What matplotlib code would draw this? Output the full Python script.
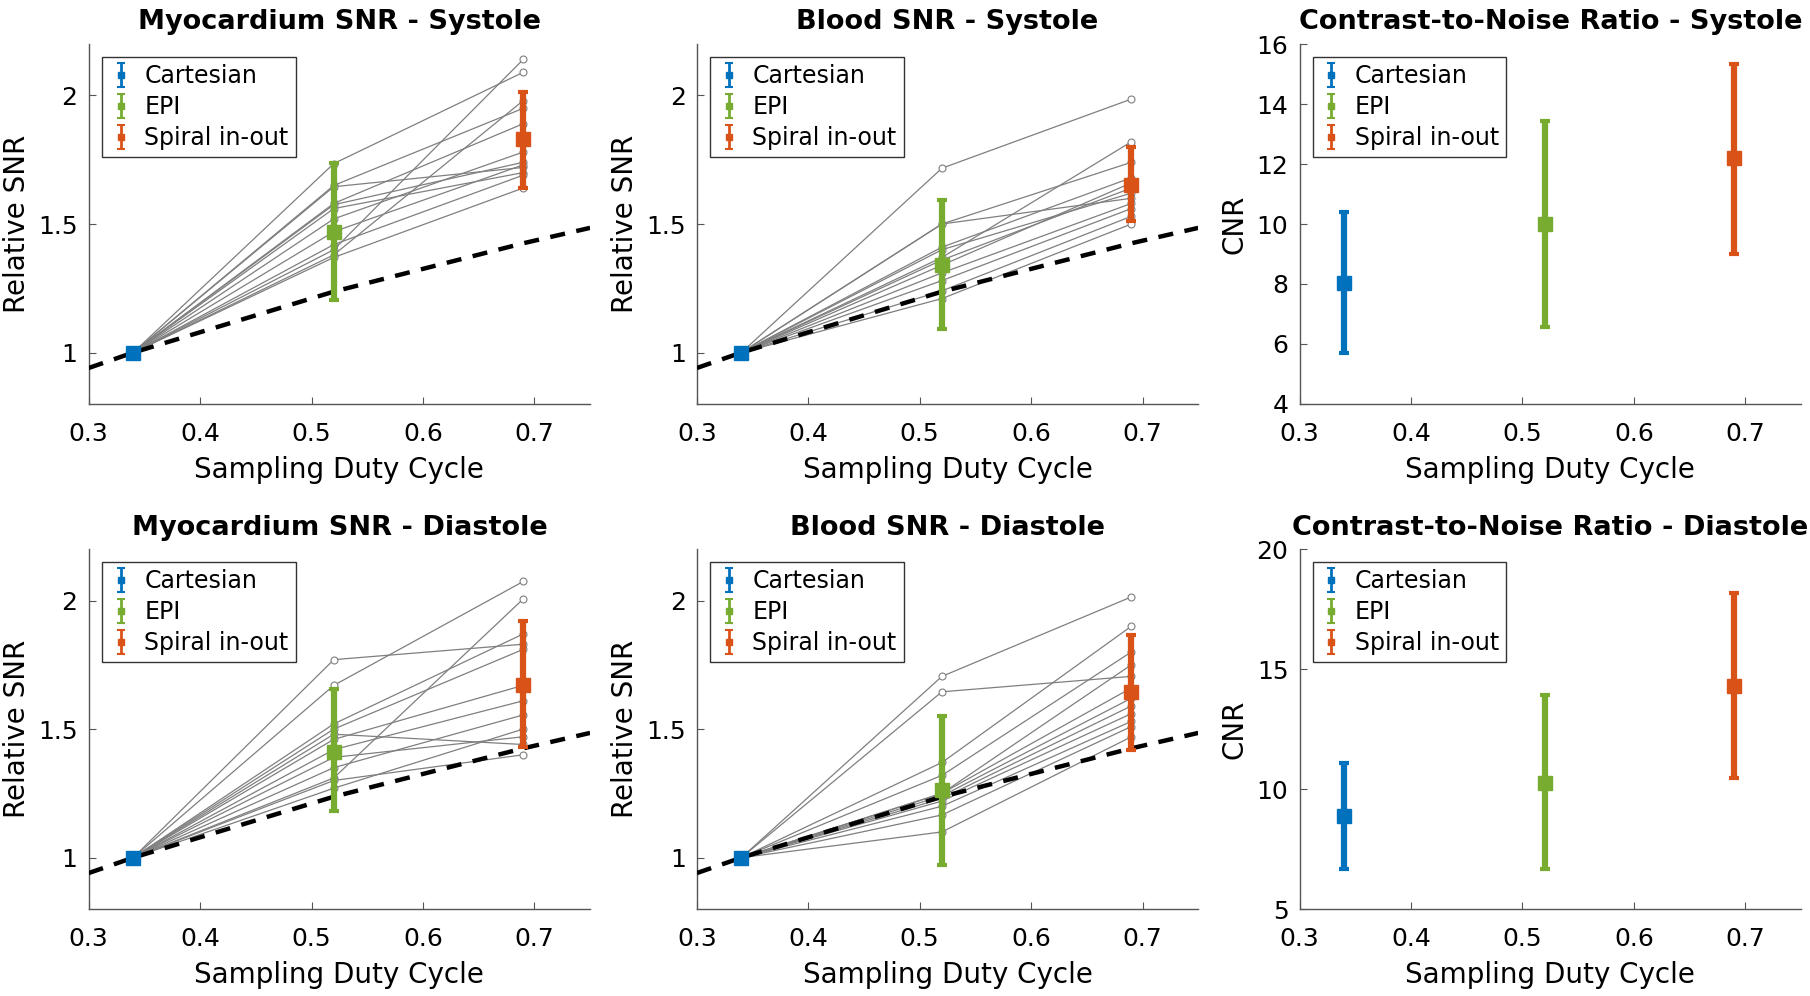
import numpy as np
import matplotlib
matplotlib.use('Agg')
import matplotlib.pyplot as plt

plt.rcParams['font.family'] = ['DejaVu Sans']

# sampling duty cycle of the three readouts
duty = [0.34, 0.52, 0.69]
methods = ['Cartesian', 'EPI', 'Spiral in-out']
colors = ['#0072BD', '#77AC30', '#D95319']

# theoretical sqrt(duty) gain
theory_x = [0.30, 0.34, 0.52, 0.69, 0.75]
theory_y = [0.94, 1.00, 1.237, 1.425, 1.485]

# per subject relative SNR (Cartesian = 1)
myo_sys_epi = [1.735, 1.65, 1.645, 1.58, 1.575, 1.56, 1.52, 1.47, 1.42, 1.40, 1.38, 1.37]
myo_sys_spi = [2.09, 1.95, 1.72, 1.89, 1.74, 1.70, 1.78, 1.73, 1.69, 2.14, 1.98, 1.64]
blood_sys_epi = [1.717, 1.50, 1.50, 1.41, 1.40, 1.37, 1.36, 1.34, 1.31, 1.28, 1.24, 1.21]
blood_sys_spi = [1.986, 1.74, 1.60, 1.68, 1.62, 1.82, 1.64, 1.66, 1.58, 1.56, 1.53, 1.50]
myo_dia_epi = [1.77, 1.67, 1.52, 1.50, 1.48, 1.46, 1.42, 1.39, 1.35, 1.31, 1.30, 1.27]
myo_dia_spi = [1.83, 2.074, 1.87, 1.81, 1.44, 1.67, 1.61, 1.47, 1.555, 2.006, 1.40, 1.50]
blood_dia_epi = [1.705, 1.645, 1.37, 1.32, 1.25, 1.25, 1.24, 1.23, 1.22, 1.20, 1.166, 1.10]
blood_dia_spi = [2.014, 1.705, 1.90, 1.80, 1.75, 1.66, 1.62, 1.59, 1.56, 1.53, 1.51, 1.47]

# group mean and error bar ends (Cartesian, EPI, Spiral)
myo_sys_mean = [1.0, 1.47, 1.83]
myo_sys_lo = [1.0, 1.205, 1.64]
myo_sys_hi = [1.0, 1.737, 2.012]
blood_sys_mean = [1.0, 1.34, 1.65]
blood_sys_lo = [1.0, 1.09, 1.51]
blood_sys_hi = [1.0, 1.594, 1.80]
myo_dia_mean = [1.0, 1.41, 1.67]
myo_dia_lo = [1.0, 1.183, 1.43]
myo_dia_hi = [1.0, 1.654, 1.92]
blood_dia_mean = [1.0, 1.264, 1.643]
blood_dia_lo = [1.0, 0.97, 1.42]
blood_dia_hi = [1.0, 1.55, 1.864]

cnr_sys_mean = [8.03, 10.0, 12.2]
cnr_sys_lo = [5.7, 6.56, 9.0]
cnr_sys_hi = [10.4, 13.45, 15.35]
cnr_dia_mean = [8.86, 10.27, 14.3]
cnr_dia_lo = [6.68, 6.68, 10.45]
cnr_dia_hi = [11.1, 13.9, 18.16]

fig = plt.figure(figsize=(18.1, 9.96), dpi=100)
fig.patch.set_facecolor('white')

col_left = [0.049, 0.385, 0.718]
row_bottom = [0.5944, 0.0873]
w, h = 0.277, 0.3614


def style_axes(ax):
    for s in ['top', 'right']:
        ax.spines[s].set_visible(False)
    for s in ['left', 'bottom']:
        ax.spines[s].set_color('#555555')
        ax.spines[s].set_linewidth(1.0)
    ax.tick_params(direction='in', length=5, width=0.8, color='#555555',
                   labelsize=18)
    ax.tick_params(axis='x', pad=13)
    ax.tick_params(axis='y', pad=8)
    ax.set_xlim(0.3, 0.75)
    ax.set_xticks([0.3, 0.4, 0.5, 0.6, 0.7])
    ax.set_xticklabels(['0.3', '0.4', '0.5', '0.6', '0.7'])
    ax.set_xlabel('Sampling Duty Cycle', fontsize=20, labelpad=7)


def draw_groups(ax, mean, lo, hi):
    for i in range(3):
        err = [[mean[i] - lo[i]], [hi[i] - mean[i]]]
        ax.errorbar([duty[i]], [mean[i]], yerr=err, fmt='s', color=colors[i],
                    ms=10, elinewidth=4.5, capsize=3.5, capthick=3, zorder=5)
    # thinner proxies for the legend
    handles = []
    for i in range(3):
        hd = ax.errorbar([np.nan], [np.nan], yerr=[[0.1], [0.1]], fmt='s',
                         color=colors[i], ms=5, elinewidth=2, capsize=3,
                         capthick=1.5, label=methods[i])
        handles.append(hd)
    leg = ax.legend(handles=handles, loc='upper left', fontsize=17,
                    frameon=True, fancybox=False, framealpha=1,
                    edgecolor='#333333', handlelength=1.0,
                    handletextpad=0.5, borderpad=0.3, labelspacing=0.3,
                    borderaxespad=0.55)
    leg.get_frame().set_linewidth(1.0)


def snr_panel(ax, title, epi, spi, mean, lo, hi):
    style_axes(ax)
    for a, b in zip(epi, spi):
        ax.plot(duty, [1.0, a, b], color='#7f7f7f', lw=0.9, marker='o',
                ms=5, mfc='white', mec='#7f7f7f', mew=0.8, zorder=2)
    ax.plot(theory_x, theory_y, color='black', lw=3.2, ls=(0, (3.4, 2.6)),
            zorder=3)
    draw_groups(ax, mean, lo, hi)
    ax.set_ylim(0.8, 2.2)
    ax.set_yticks([1, 1.5, 2])
    ax.set_yticklabels(['1', '1.5', '2'])
    ax.set_ylabel('Relative SNR', fontsize=20, labelpad=5)
    ax.set_title(title, fontsize=19.5, fontweight='bold', pad=10.5)


def cnr_panel(ax, title, mean, lo, hi, ylim, yticks):
    style_axes(ax)
    draw_groups(ax, mean, lo, hi)
    ax.set_ylim(*ylim)
    ax.set_yticks(yticks)
    ax.set_ylabel('CNR', fontsize=20, labelpad=6)
    ax.set_title(title, fontsize=19.5, fontweight='bold', pad=10.5)


ax1 = fig.add_axes([col_left[0], row_bottom[0], w, h])
snr_panel(ax1, 'Myocardium SNR - Systole', myo_sys_epi, myo_sys_spi,
          myo_sys_mean, myo_sys_lo, myo_sys_hi)
ax2 = fig.add_axes([col_left[1], row_bottom[0], w, h])
snr_panel(ax2, 'Blood SNR - Systole', blood_sys_epi, blood_sys_spi,
          blood_sys_mean, blood_sys_lo, blood_sys_hi)
ax3 = fig.add_axes([col_left[2], row_bottom[0], w, h])
cnr_panel(ax3, 'Contrast-to-Noise Ratio - Systole', cnr_sys_mean, cnr_sys_lo,
          cnr_sys_hi, (4, 16), [4, 6, 8, 10, 12, 14, 16])

ax4 = fig.add_axes([col_left[0], row_bottom[1], w, h])
snr_panel(ax4, 'Myocardium SNR - Diastole', myo_dia_epi, myo_dia_spi,
          myo_dia_mean, myo_dia_lo, myo_dia_hi)
ax5 = fig.add_axes([col_left[1], row_bottom[1], w, h])
snr_panel(ax5, 'Blood SNR - Diastole', blood_dia_epi, blood_dia_spi,
          blood_dia_mean, blood_dia_lo, blood_dia_hi)
ax6 = fig.add_axes([col_left[2], row_bottom[1], w, h])
cnr_panel(ax6, 'Contrast-to-Noise Ratio - Diastole', cnr_dia_mean, cnr_dia_lo,
          cnr_dia_hi, (5, 20), [5, 10, 15, 20])

fig.savefig('out.png', dpi=100, facecolor='white')
